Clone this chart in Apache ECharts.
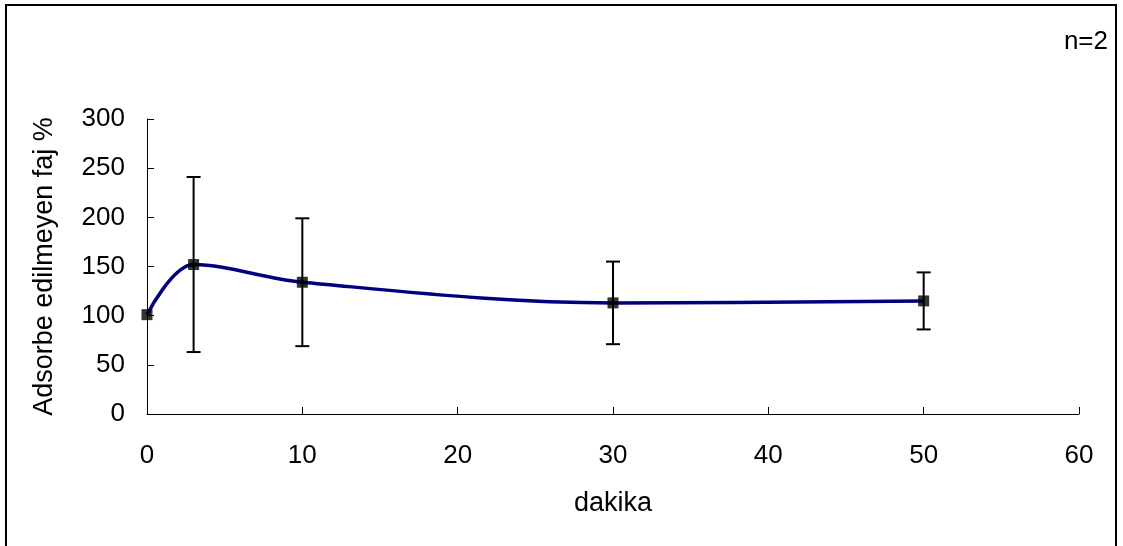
<!DOCTYPE html>
<html>
<head>
<meta charset="utf-8">
<script src="https://cdn.jsdelivr.net/npm/echarts@6/dist/echarts.min.js"></script>
<style>
  html, body { margin: 0; padding: 0; background: #fff; }
  #chart { width: 1123px; height: 546px; }
</style>
</head>
<body>
<div id="chart"></div>
<script>
// Unadsorbed phage (%) over time, mean ± SD, n=2
const minutes = [0, 3, 10, 30, 50];
const meanPct = [101, 152, 134, 113, 115];
const sdPct = [0, 89, 65, 42, 29];
const xTicks = [0, 10, 20, 30, 40, 50, 60];
const yTicks = [0, 50, 100, 150, 200, 250, 300];

const FONT = '"Liberation Sans", Arial, sans-serif';
const FS = 26;
const chart = echarts.init(document.getElementById('chart'), null, { renderer: 'canvas' });

const linePts = minutes.map((m, i) => [m, meanPct[i]]);
const errPts = minutes.map((m, i) => [m, meanPct[i] - sdPct[i], meanPct[i] + sdPct[i]]);

chart.setOption({
  animation: false,
  backgroundColor: '#fff',
  grid: { left: 147, right: 44, top: 119, bottom: 132, containLabel: false },
  xAxis: {
    type: 'value',
    min: xTicks[0], max: xTicks[xTicks.length - 1], interval: 10,
    name: 'dakika', nameLocation: 'middle', nameGap: 76,
    nameTextStyle: { fontFamily: FONT, fontSize: FS + 1, color: '#000' },
    axisLine: { show: true, lineStyle: { color: '#000', width: 1 } },
    axisTick: { show: true, inside: true, length: 7, lineStyle: { color: '#000' } },
    axisLabel: { fontFamily: FONT, fontSize: FS, color: '#000', margin: 29 },
    splitLine: { show: false }
  },
  yAxis: {
    type: 'value',
    min: yTicks[0], max: yTicks[yTicks.length - 1], interval: 50,
    name: 'Adsorbe edilmeyen faj %', nameLocation: 'middle', nameGap: 89,
    nameRotate: 90,
    nameTextStyle: { fontFamily: FONT, fontSize: FS + 1, color: '#000' },
    axisLine: { show: true, lineStyle: { color: '#000', width: 1 } },
    axisTick: { show: true, inside: true, length: 7, lineStyle: { color: '#000' } },
    axisLabel: { fontFamily: FONT, fontSize: FS, color: '#000', margin: 22 },
    splitLine: { show: false }
  },
  graphic: [
    {
      type: 'rect', silent: true, z: 100,
      shape: { x: 6, y: 5, width: 1110, height: 560 },
      style: { fill: 'none', stroke: '#000', lineWidth: 2 }
    },
    {
      type: 'text', z: 100,
      right: 15, top: 29,
      style: { text: 'n=2', font: FS + 'px ' + FONT, fill: '#000' }
    }
  ],
  series: [
    {
      type: 'line',
      data: linePts,
      smooth: 0.35,
      symbol: 'none',
      lineStyle: { color: '#000080', width: 3.5 },
      z: 2
    },
    {
      type: 'custom',
      data: errPts,
      z: 3,
      renderItem: function (params, api) {
        const x = api.value(0);
        const lo = api.coord([x, api.value(1)]);
        const hi = api.coord([x, api.value(2)]);
        const cap = 7;
        if (Math.abs(hi[1] - lo[1]) < 1) return null;
        const st = { stroke: '#000', lineWidth: 2 };
        return {
          type: 'group',
          children: [
            { type: 'line', shape: { x1: lo[0], y1: lo[1], x2: hi[0], y2: hi[1] }, style: st },
            { type: 'line', shape: { x1: lo[0] - cap, y1: lo[1], x2: lo[0] + cap, y2: lo[1] }, style: st },
            { type: 'line', shape: { x1: hi[0] - cap, y1: hi[1], x2: hi[0] + cap, y2: hi[1] }, style: st }
          ]
        };
      }
    },
    {
      type: 'scatter',
      data: linePts,
      symbol: 'rect',
      symbolSize: 11,
      itemStyle: { color: '#000' },
      z: 4
    }
  ]
});
</script>
</body>
</html>
